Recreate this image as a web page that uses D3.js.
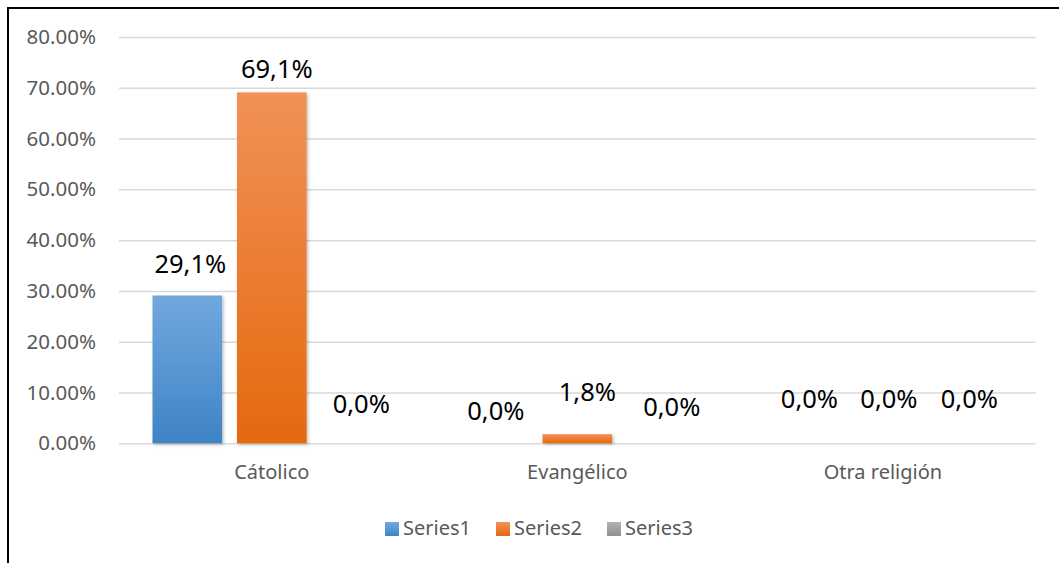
<!DOCTYPE html>
<html>
<head>
<meta charset="utf-8">
<script src="https://cdn.jsdelivr.net/npm/d3@7"></script>
<style>
  body { margin: 0; background: #fff; }
  svg { display: block; }
</style>
</head>
<body>
<div id="chart"></div>
<script>
// chart values
var categories = ["Cátolico", "Evangélico", "Otra religión"];
var seriesNames = ["Series1", "Series2", "Series3"];
var series1 = [0.291, 0.0, 0.0];
var series2 = [0.691, 0.018, 0.0];
var series3 = [0.0, 0.0, 0.0];
var yTicks = [0, 0.1, 0.2, 0.3, 0.4, 0.5, 0.6, 0.7, 0.8];

// label nudges (as moved by hand in the original): [dx, lift above bar]
var labelNudge = [
    [[3, 23], [5, 14], [5, 30]],
    [[3, 23], [10, 33], [10, 27]],
    [[11, 35], [6, 35], [2, 35]]
];

var W = 1059, H = 563;
var margin = { top: 37, left: 119, right: 23, bottom: 120 };
var innerW = 1035.7 - margin.left;
var innerH = 443.3 - margin.top;

var fillTop = ["#72a8de", "#f19157", "#b1b1b1"];
var fillBot = ["#3e84c6", "#e5690f", "#909090"];

var table = categories.map(function (c, i) {
    return { cat: c, i: i, values: [series1[i], series2[i], series3[i]] };
});

var svg = d3.select("#chart").append("svg")
    .attr("width", W)
    .attr("height", H)
    .style("font-family", "'Noto Sans', 'Open Sans', sans-serif");

var defs = svg.append("defs");
seriesNames.forEach(function (s, k) {
    var g = defs.append("linearGradient")
        .attr("id", "grad" + k)
        .attr("x1", 0).attr("y1", 0).attr("x2", 0).attr("y2", 1);
    g.append("stop").attr("offset", "0%").attr("stop-color", fillTop[k]);
    g.append("stop").attr("offset", "100%").attr("stop-color", fillBot[k]);
});
var f = defs.append("filter").attr("id", "shadow")
    .attr("x", "-20%").attr("y", "-20%").attr("width", "140%").attr("height", "140%");
f.append("feDropShadow")
    .attr("dx", 1.5).attr("dy", 1.5).attr("stdDeviation", 1.5)
    .attr("flood-color", "#000").attr("flood-opacity", 0.25);

// outer frame (only top and left visible in the crop)
svg.append("rect")
    .attr("x", 8).attr("y", 8)
    .attr("width", W + 20).attr("height", H + 20)
    .attr("fill", "none")
    .attr("stroke", "#000")
    .attr("stroke-width", 2);

var g = svg.append("g").attr("transform", "translate(" + margin.left + "," + margin.top + ")");

var y = d3.scaleLinear().domain([0, 0.8]).range([innerH, 0]);
var x0 = d3.scaleBand().domain(categories).range([0, innerW]);
var x1 = d3.scaleBand().domain(seriesNames)
    .range([33.5, x0.bandwidth() - 33.5])
    .paddingInner(0.175);

var fmtAxis = d3.format(".2%");
var fmtLabel = function (v) { return d3.format(".1%")(v).replace(".", ","); };

// y axis with gridlines
var yAxis = g.append("g")
    .call(d3.axisLeft(y).tickValues(yTicks).tickSize(-innerW).tickPadding(23).tickFormat(fmtAxis));
yAxis.select(".domain").remove();
yAxis.selectAll(".tick line").attr("stroke", "#d9d9d9").attr("stroke-width", 1.5);
yAxis.selectAll(".tick text")
    .attr("fill", "#595959")
    .style("font-size", "20.5px")
    .style("font-family", "'Noto Sans', sans-serif");

// x axis labels
var xAxis = g.append("g")
    .attr("transform", "translate(0," + innerH + ")")
    .call(d3.axisBottom(x0).tickSize(0).tickPadding(22));
xAxis.select(".domain").remove();
xAxis.selectAll(".tick text")
    .attr("fill", "#595959")
    .style("font-size", "20px")
    .style("font-family", "'Noto Sans', sans-serif");

// bars
var groups = g.selectAll(".grp")
    .data(table)
    .enter().append("g")
    .attr("class", "grp")
    .attr("transform", function (d) { return "translate(" + x0(d.cat) + ",0)"; });

groups.selectAll("rect")
    .data(function (d) {
        return d.values.map(function (v, k) { return { v: v, k: k, i: d.i }; });
    })
    .enter().append("rect")
    .filter(function (d) { return d.v > 0; })
    .attr("x", function (d) { return x1(seriesNames[d.k]); })
    .attr("y", function (d) { return y(d.v); })
    .attr("width", x1.bandwidth())
    .attr("height", function (d) { return innerH - y(d.v); })
    .attr("fill", function (d) { return "url(#grad" + d.k + ")"; })
    .attr("filter", "url(#shadow)");

// data labels
groups.selectAll("text.lbl")
    .data(function (d) {
        return d.values.map(function (v, k) { return { v: v, k: k, i: d.i }; });
    })
    .enter().append("text")
    .attr("class", "lbl")
    .attr("x", function (d) {
        return x1(seriesNames[d.k]) + x1.bandwidth() / 2 + labelNudge[d.i][d.k][0];
    })
    .attr("y", function (d) { return y(d.v) - labelNudge[d.i][d.k][1]; })
    .attr("text-anchor", "middle")
    .attr("fill", "#000")
    .style("font-size", "25.5px")
    .text(function (d) { return fmtLabel(d.v); });

// legend
var legend = svg.append("g").attr("transform", "translate(385,522)");
var legX = [0, 111, 222];
seriesNames.forEach(function (s, k) {
    var it = legend.append("g").attr("transform", "translate(" + legX[k] + ",0)");
    it.append("rect")
        .attr("width", 14).attr("height", 14)
        .attr("fill", "url(#grad" + k + ")");
    it.append("text")
        .attr("x", 18).attr("y", 13)
        .attr("fill", "#595959")
        .style("font-size", "20px")
        .text(s);
});
</script>
</body>
</html>
